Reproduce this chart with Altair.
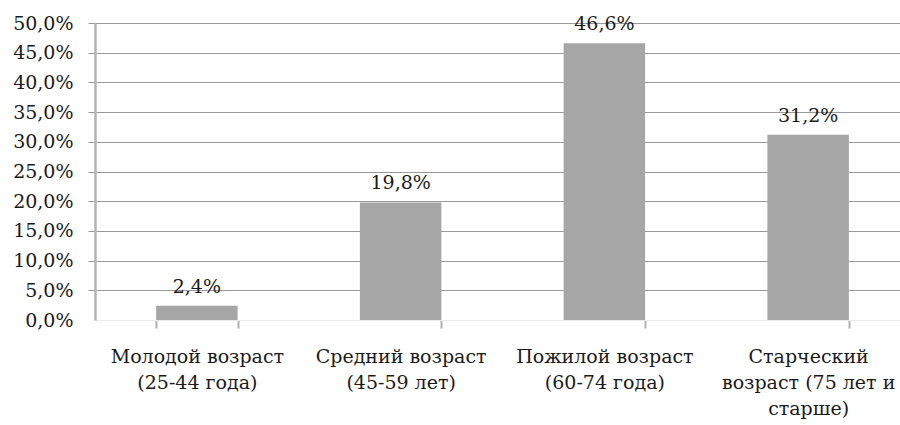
import altair as alt
import pandas as pd

categories = [
    "Молодой возраст|(25-44 года)",
    "Средний возраст|(45-59 лет)",
    "Пожилой возраст|(60-74 года)",
    "Старческий|возраст (75 лет и|старше)",
]
values = [2.4, 19.8, 46.6, 31.2]
labels = [f"{v:.1f}".replace(".", ",") + "%" for v in values]
y_ticks = [0, 5, 10, 15, 20, 25, 30, 35, 40, 45, 50]

df = pd.DataFrame({"cat": categories, "val": values, "lab": labels})

FONT = "DejaVu Serif"
FS = 19
TXT = "#1a1a1a"

x_enc = alt.X(
    "cat:N",
    sort=None,
    title=None,
    scale=alt.Scale(range=[0, 815], paddingInner=0.6, paddingOuter=0.3),
    axis=alt.Axis(
        labelExpr="split(datum.label, '|')",
        labelAngle=0,
        labelFont=FONT,
        labelFontSize=FS,
        labelColor=TXT,
        labelLineHeight=26,
        labelPadding=19,
        labelBaseline="top",
        labelOverlap=False,
        tickBand="extent",
        tickSize=8,
        tickColor="#b0b0b0",
        tickWidth=2,
        domainColor="#ececec",
        domainWidth=1,
        grid=False,
        labelLimit=0,
    ),
)

y_enc = alt.Y(
    "val:Q",
    title=None,
    scale=alt.Scale(domain=[0, 50], nice=False),
    axis=alt.Axis(
        values=y_ticks,
        labelExpr="replace(format(datum.value, '.1f'), '.', ',') + '%'",
        labelFont=FONT,
        labelFontSize=FS,
        labelColor=TXT,
        labelPadding=15,
        labelOverlap=False,
        tickSize=7,
        tickColor="#9a9a9a",
        tickOpacity=alt.ExprRef("datum.value == 0 ? 0 : 1"),
        grid=True,
        gridColor="#9a9a9a",
        gridWidth=1,
        gridOpacity=alt.ExprRef("datum.value == 0 ? 0 : 1"),
        domainColor="#b4b4b4",
        domainWidth=2.5,
    ),
)

bars = alt.Chart(df).mark_bar(color="#a6a6a6").encode(x=x_enc, y=y_enc)
text = alt.Chart(df).mark_text(
    font=FONT, fontSize=FS, color=TXT, baseline="alphabetic", dy=-13
).encode(x=x_enc, y=y_enc, text="lab:N")

chart = (
    alt.layer(bars, text)
    .properties(
        width=805,
        height=297,
        autosize=alt.AutoSizeParams(type="none"),
        padding={"left": 95, "top": 23, "right": 0, "bottom": 105},
    )
    .configure(background="white")
    .configure_view(stroke=None)
)

chart.save("out.html", embed_options={"renderer": "svg", "actions": False})
